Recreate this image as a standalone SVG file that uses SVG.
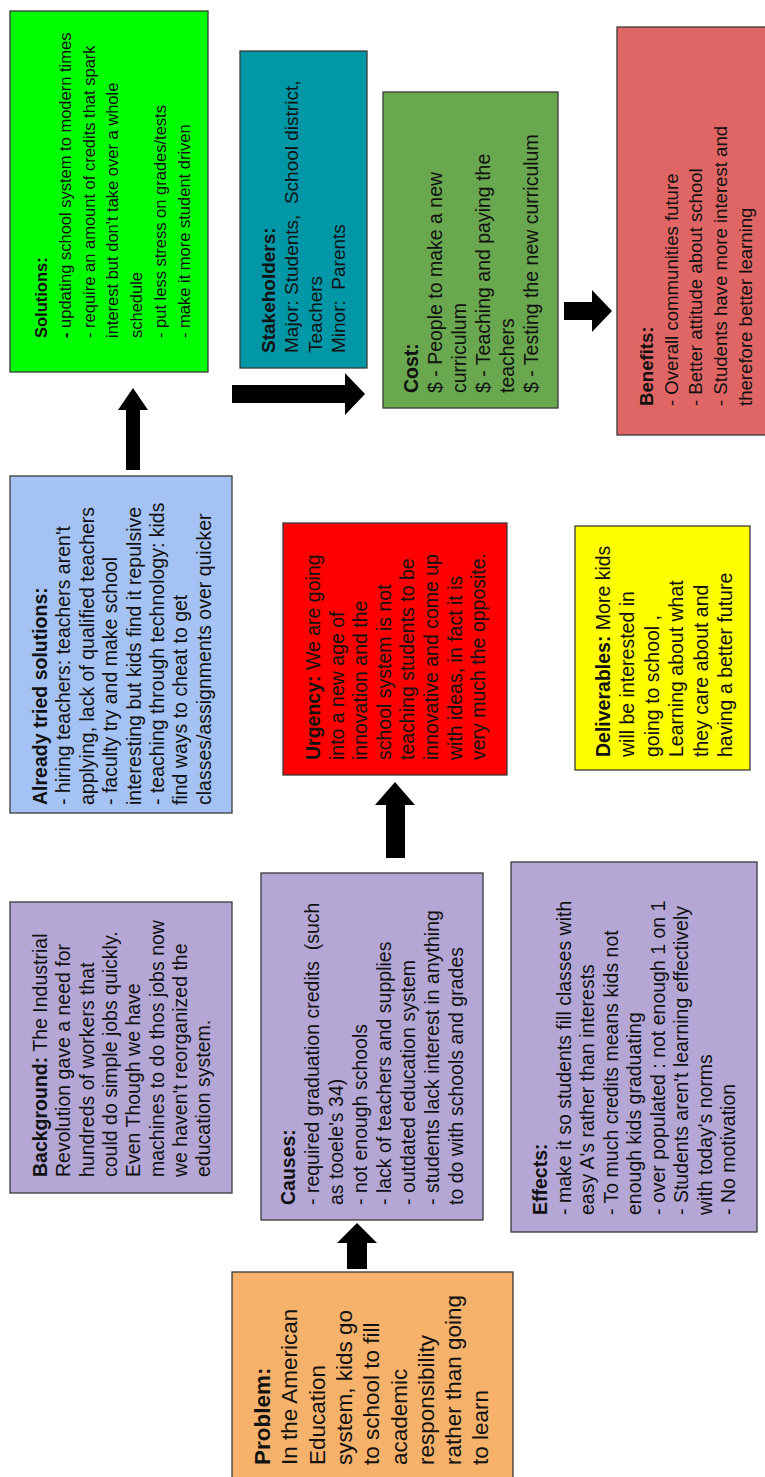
<svg xmlns="http://www.w3.org/2000/svg" width="765" height="1477" viewBox="0 0 765 1477">
  <style>
    .box { stroke: #3a3a3a; stroke-width: 1.3; }
    .t { font-family: "Liberation Sans", Arial, sans-serif; font-size: 19.5px; fill: #111; white-space: pre; }
    .big { font-size: 22.5px; }
    .small { font-size: 16.5px; }
    .mid { font-size: 18.6px; }
    .b { font-weight: bold; }
    .arrow { fill: #000; }
  </style>

  <!-- Problem -->
  <g id="problem">
    <rect class="box" x="232" y="1272" width="281" height="215" fill="#f6b26b"/>
    <text class="t big" transform="translate(270 1465) rotate(-90)">
      <tspan x="0" dy="0" class="b">Problem:</tspan>
      <tspan x="0" dy="27.3">In the American</tspan>
      <tspan x="0" dy="27.3">Education</tspan>
      <tspan x="0" dy="27.3">system, kids go</tspan>
      <tspan x="0" dy="27.3">to school to fill</tspan>
      <tspan x="0" dy="27.3">academic</tspan>
      <tspan x="0" dy="27.3">responsibility</tspan>
      <tspan x="0" dy="27.3">rather than going</tspan>
      <tspan x="0" dy="27.3">to learn</tspan>
    </text>
  </g>

  <!-- Background -->
  <g id="background">
    <rect class="box" x="10" y="902" width="222" height="291" fill="#b4a7d6"/>
    <text class="t" transform="translate(47 1177) rotate(-90)">
      <tspan x="0" dy="0"><tspan class="b">Background:</tspan> The Industrial</tspan>
      <tspan x="0" dy="23.3">Revolution gave a need for</tspan>
      <tspan x="0" dy="23.3">hundreds of workers that</tspan>
      <tspan x="0" dy="23.3">could do simple jobs quickly.</tspan>
      <tspan x="0" dy="23.3">Even Though we have</tspan>
      <tspan x="0" dy="23.3">machines to do thos jobs now</tspan>
      <tspan x="0" dy="23.3">we haven't reorganized the</tspan>
      <tspan x="0" dy="23.3">education system.</tspan>
    </text>
  </g>

  <!-- Causes -->
  <g id="causes">
    <rect class="box" x="261" y="873" width="222" height="347" fill="#b4a7d6"/>
    <text class="t" transform="translate(295 1205) rotate(-90)">
      <tspan x="0" dy="0" class="b">Causes:</tspan>
      <tspan x="0" dy="24">- required graduation credits  (such</tspan>
      <tspan x="0" dy="24">as tooele's 34)</tspan>
      <tspan x="0" dy="24">- not enough schools</tspan>
      <tspan x="0" dy="24">- lack of teachers and supplies</tspan>
      <tspan x="0" dy="24">- outdated education system</tspan>
      <tspan x="0" dy="24">- students lack interest in anything</tspan>
      <tspan x="0" dy="24">to do with schools and grades</tspan>
    </text>
  </g>

  <!-- Effects -->
  <g id="effects">
    <rect class="box" x="511" y="862" width="246" height="370" fill="#b4a7d6"/>
    <text class="t" transform="translate(547 1215) rotate(-90)">
      <tspan x="0" dy="0" class="b">Effects:</tspan>
      <tspan x="0" dy="23.5">- make it so students fill classes with</tspan>
      <tspan x="0" dy="23.5">easy A's rather than interests</tspan>
      <tspan x="0" dy="23.5">- To much credits means kids not</tspan>
      <tspan x="0" dy="23.5">enough kids graduating</tspan>
      <tspan x="0" dy="23.5">- over populated : not enough 1 on 1</tspan>
      <tspan x="0" dy="23.5">- Students aren't learning effectively</tspan>
      <tspan x="0" dy="23.5">with today's norms</tspan>
      <tspan x="0" dy="23.5">- No motivation</tspan>
    </text>
  </g>

  <!-- Already tried solutions -->
  <g id="already-tried">
    <rect class="box" x="10" y="476" width="222" height="337" fill="#a4c2f4"/>
    <text class="t" transform="translate(47 805) rotate(-90)">
      <tspan x="0" dy="0" class="b">Already tried solutions:</tspan>
      <tspan x="0" dy="23.4">- hiring teachers: teachers aren't</tspan>
      <tspan x="0" dy="23.4">applying, lack of qualified teachers</tspan>
      <tspan x="0" dy="23.4">- faculty try and make school</tspan>
      <tspan x="0" dy="23.4">interesting but kids find it repulsive</tspan>
      <tspan x="0" dy="23.4">- teaching through technology: kids</tspan>
      <tspan x="0" dy="23.4">find ways to cheat to get</tspan>
      <tspan x="0" dy="23.4">classes/assignments over quicker</tspan>
    </text>
  </g>

  <!-- Urgency -->
  <g id="urgency">
    <rect class="box" x="283" y="523" width="224" height="252" fill="#ff0000"/>
    <text class="t" transform="translate(320 760) rotate(-90)">
      <tspan x="0" dy="0"><tspan class="b">Urgency:</tspan> We are going</tspan>
      <tspan x="0" dy="23.6">into a new age of</tspan>
      <tspan x="0" dy="23.6">innovation and the</tspan>
      <tspan x="0" dy="23.6">school system is not</tspan>
      <tspan x="0" dy="23.6">teaching students to be</tspan>
      <tspan x="0" dy="23.6">innovative and come up</tspan>
      <tspan x="0" dy="23.6">with ideas, in fact it is</tspan>
      <tspan x="0" dy="23.6">very much the opposite.</tspan>
    </text>
  </g>

  <!-- Deliverables -->
  <g id="deliverables">
    <rect class="box" x="575" y="526" width="175" height="244" fill="#ffff00"/>
    <text class="t" transform="translate(610 757) rotate(-90)">
      <tspan x="0" dy="0"><tspan class="b">Deliverables:</tspan> More kids</tspan>
      <tspan x="0" dy="24.4">will be interested in</tspan>
      <tspan x="0" dy="24.4">going to school ,</tspan>
      <tspan x="0" dy="24.4">Learning about what</tspan>
      <tspan x="0" dy="24.4">they care about and</tspan>
      <tspan x="0" dy="24.4">having a better future</tspan>
    </text>
  </g>

  <!-- Solutions -->
  <g id="solutions">
    <rect class="box" x="10" y="11" width="198" height="361" fill="#00ff00"/>
    <text class="t small" transform="translate(47 338) rotate(-90)">
      <tspan x="0" dy="0" class="b">Solutions:</tspan>
      <tspan x="0" dy="23.8"><tspan class="b">-</tspan> updating school system to modern times</tspan>
      <tspan x="0" dy="23.8">- require an amount of credits that spark</tspan>
      <tspan x="0" dy="23.8">interest but don't take over a whole</tspan>
      <tspan x="0" dy="23.8">schedule</tspan>
      <tspan x="0" dy="23.8">- put less stress on grades/tests</tspan>
      <tspan x="0" dy="23.8">- make it more student driven</tspan>
    </text>
  </g>

  <!-- Stakeholders -->
  <g id="stakeholders">
    <rect class="box" x="240" y="51" width="127" height="317" fill="#0097a7"/>
    <text class="t" style="font-size:19px" transform="translate(275 353) rotate(-90)">
      <tspan x="0" dy="0" class="b">Stakeholders:</tspan>
      <tspan x="0" dy="23.3">Major: Students,  School district,</tspan>
      <tspan x="0" dy="23.3">Teachers</tspan>
      <tspan x="0" dy="23.3">Minor:  Parents</tspan>
    </text>
  </g>

  <!-- Cost -->
  <g id="cost">
    <rect class="box" x="383" y="92" width="175" height="316" fill="#6aa84f"/>
    <text class="t" transform="translate(418 393) rotate(-90)">
      <tspan x="0" dy="0" class="b">Cost:</tspan>
      <tspan x="0" dy="24">$ - People to make a new</tspan>
      <tspan x="0" dy="24">curriculum</tspan>
      <tspan x="0" dy="24">$ - Teaching and paying the</tspan>
      <tspan x="0" dy="24">teachers</tspan>
      <tspan x="0" dy="24">$ - Testing the new curriculum</tspan>
    </text>
  </g>

  <!-- Benefits -->
  <g id="benefits">
    <rect class="box" x="617" y="27" width="160" height="408" fill="#e06666"/>
    <text class="t mid" transform="translate(653 406) rotate(-90)">
      <tspan x="0" dy="0" class="b">Benefits:</tspan>
      <tspan x="0" dy="24.7">- Overall communities future</tspan>
      <tspan x="0" dy="24.7">- Better attitude about school</tspan>
      <tspan x="0" dy="24.7">- Students have more interest and</tspan>
      <tspan x="0" dy="24.7">therefore better learning</tspan>
    </text>
  </g>

  <!-- Connectors: solid block arrows -->
  <g id="connectors" class="arrow">
    <!-- problem to causes -->
    <polygon points="347,1269 367,1269 367,1243 377,1243 357,1223 337,1243 347,1243"/>
    <!-- causes to urgency -->
    <polygon points="386,858 405,858 405,805 415,805 395,782 375,805 386,805"/>
    <!-- already tried to solutions -->
    <polygon points="126,470 140,470 140,410 148,410 133,388 118,410 126,410"/>
    <!-- solutions to cost -->
    <polygon points="232,385 345,385 345,373 365,394 345,415 345,403 232,403"/>
    <!-- cost to benefits -->
    <polygon points="564,302 592,302 592,290 612,311 592,332 592,320 564,320"/>
  </g>
</svg>
